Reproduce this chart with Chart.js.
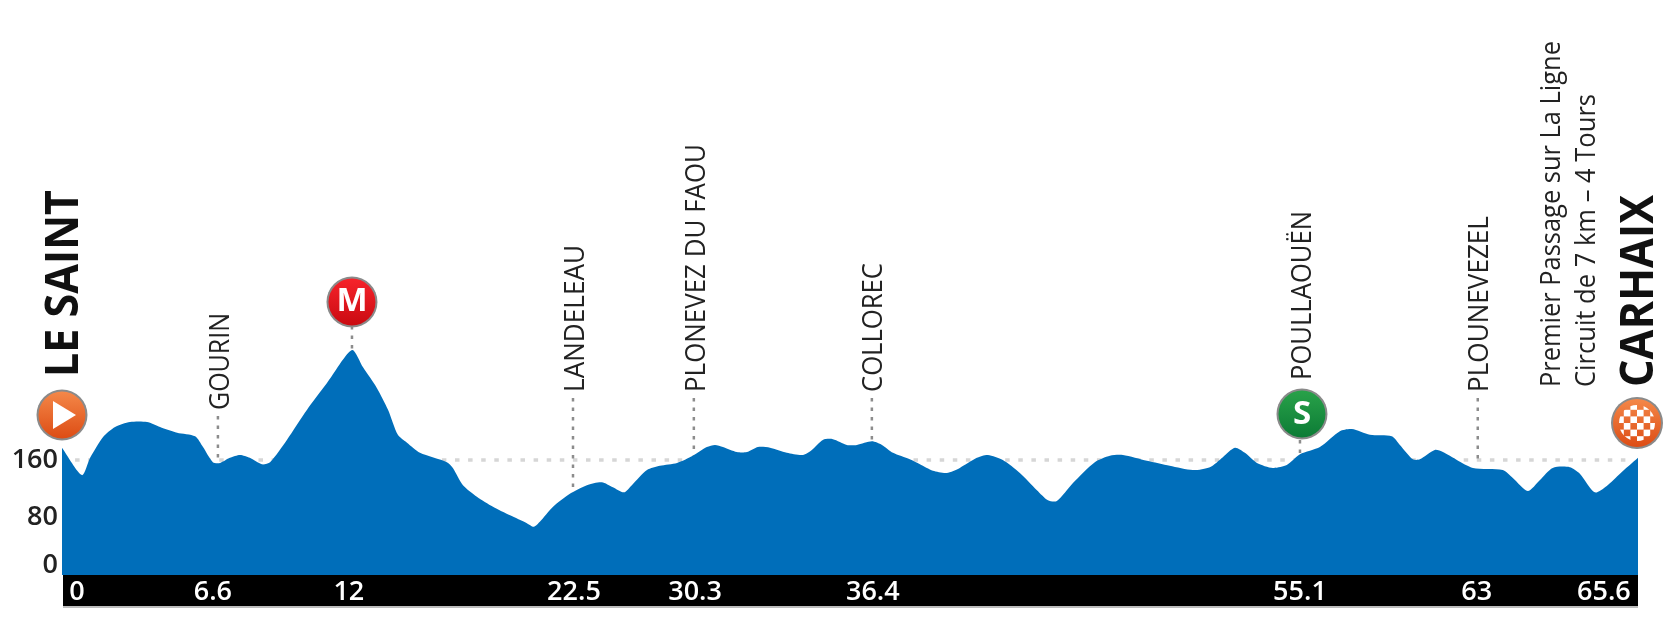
<!DOCTYPE html>
<html lang="fr">
<head>
<meta charset="utf-8">
<title>Profil Le Saint – Carhaix</title>
<script src="https://cdn.jsdelivr.net/npm/chart.js@4"></script>
<style>
html,body{margin:0;padding:0;background:#fff}
canvas{display:block;filter:blur(0.7px)}
</style>
</head>
<body>
<canvas id="c" width="1680" height="628"></canvas>
<script>
const distanceKm = [0,.83,1.17,1.71,2.21,2.83,3.54,4.08,4.79,5.54,5.87,6.28,6.58,6.99,7.41,7.82,8.32,8.66,9.36,10.2,11.03,12.07,12.53,13.11,13.57,13.98,14.36,14.9,16.02,16.27,16.69,17.27,17.94,18.65,19.35,19.64,19.89,20.44,21.14,21.85,22.47,22.93,23.39,23.72,24.35,24.89,25.6,26.26,26.84,27.18,27.51,28.09,28.51,28.97,29.47,30.17,30.84,31.21,31.67,32.09,32.67,33.09,33.71,34.13,34.59,35.29,35.71,36.25,36.83,37.37,38.08,38.54,39.16,39.87,40.58,41.04,41.41,42.08,42.99,43.62,44.16,45.16,46.11,47.07,47.78,48.32,48.82,49.24,49.74,50.4,50.98,51.53,52.36,53.19,53.69,54.44,55.35,55.69,56.23,56.52,57.14,57.48,58.06,58.73,59.97,60.39,61.01,61.51,62.05,62.76,63.18,63.8,64.3,64.85,65.6];
const elevationM = [177,139,163,192,206,213,213,206,198,193,178,157,156,163,167,163,154,157,188,230,267,313,289,260,230,195,184,170,157,149,125,109,95,83,72,67,74,95,113,125,129,122,115,125,146,152,156,166,178,181,178,171,171,178,177,170,167,174,188,189,181,181,186,181,170,161,154,145,142,149,163,167,160,142,118,104,103,128,157,166,167,159,152,146,150,164,177,170,156,149,153,168,178,200,203,195,193,181,161,161,174,171,160,149,146,135,117,132,149,150,141,115,124,141,163];

const yTickValues = [0,80,160];
const xTickPositions = [0.62,6.28,11.94,21.31,26.35,33.75,51.53,58.89,64.18];
const xTickLabels = ["0","6.6","12","22.5","30.3","36.4","55.1","63","65.6"];

const waypointNames = ["GOURIN","LANDELEAU","PLONEVEZ DU FAOU","COLLOREC","POULLAOUËN","PLOUNEVEZEL"];
const waypointKm = [6.49,21.27,26.30,33.71,51.53,58.93];
const waypointElevation = [156,115,166,186,168,161];

const circleLabels = ["M","S"];
const circleKm = [12.07,51.53];
const circleElevation = [313,168];

const startName = "LE SAINT";
const finishName = "CARHAIX";
const finishNotes = ["Premier Passage sur La Ligne","Circuit de 7 km – 4 Tours"];

const FONT = '"Open Sans", sans-serif';

function rotText(ctx, text, x, yBottom, font, len, color){
  ctx.save();
  ctx.translate(x, yBottom);
  ctx.rotate(-Math.PI/2);
  ctx.font = font;
  ctx.fillStyle = color;
  ctx.textAlign = 'left';
  ctx.textBaseline = 'middle';
  ctx.fillText(text, 0, 0, len);
  ctx.restore();
}
function badge(ctx, x, y, r, top, bottom){
  ctx.save();
  ctx.beginPath(); ctx.arc(x, y, r, 0, 2*Math.PI);
  ctx.fillStyle = '#8a8a8a'; ctx.fill();
  const g = ctx.createLinearGradient(0, y-r, 0, y+r);
  g.addColorStop(0, top); g.addColorStop(1, bottom);
  ctx.beginPath(); ctx.arc(x, y, r-2, 0, 2*Math.PI);
  ctx.fillStyle = g; ctx.fill();
  ctx.restore();
}
function vDots(ctx, x, y0, y1){
  ctx.save();
  ctx.strokeStyle = '#8c8c8c'; ctx.lineWidth = 2.5; ctx.setLineDash([3.5,6]);
  ctx.beginPath(); ctx.moveTo(x, y1); ctx.lineTo(x, y0); ctx.stroke();
  ctx.restore();
}

const profilePlugin = {
  id: 'profile',
  beforeDraw(chart){
    const {ctx, chartArea:a, scales:{x,y}} = chart;
    // black distance band under the profile, and its grey edge
    ctx.save();
    ctx.fillStyle = '#bdbdbd'; ctx.fillRect(a.left+1, a.bottom+31, a.right-a.left-1, 2);
    ctx.fillStyle = '#000'; ctx.fillRect(a.left+1, a.bottom, a.right-a.left-1, 31);
    // dotted 160 m reference
    const yRef = y.getPixelForValue(160);
    ctx.strokeStyle = '#d6d6d6'; ctx.lineWidth = 3.5; ctx.setLineDash([4.5,8.6]);
    ctx.beginPath(); ctx.moveTo(a.left, yRef); ctx.lineTo(a.right-10, yRef); ctx.stroke();
    ctx.restore();
    // waypoint leaders
    waypointKm.forEach((km,i)=>{
      const px = x.getPixelForValue(km);
      vDots(ctx, px, y.getPixelForValue(waypointElevation[i]), i===0 ? 416 : i===4 ? 440 : 398);
    });
    vDots(ctx, x.getPixelForValue(circleKm[0]), y.getPixelForValue(circleElevation[0]), 326);
    // lift the "0" label off the band, as in the original
    y.getLabelItems().forEach(it=>{
      if (it.label === '0' && !it._moved){ it.options.translation[1] -= 10; it._moved = true; }
    });
  },
  afterDatasetsDraw(chart){
    const {ctx, scales:{x,y}} = chart;
    const nameFont = `28px ${FONT}`;
    const lengths = [97,147,248,129,169,176];
    const bottoms = [410,392,392,392,380,392];
    const offs = [3,3,3,2,3,2];
    waypointNames.forEach((n,i)=>{
      rotText(ctx, n, x.getPixelForValue(waypointKm[i])+offs[i], bottoms[i], nameFont, lengths[i], '#222');
    });
    // Start / finish names
    rotText(ctx, startName, 65, 377, `bold 46px ${FONT}`, 187, '#111');
    rotText(ctx, finishName, 1640, 387, `bold 46px ${FONT}`, 192, '#111');
    rotText(ctx, finishNotes[0], 1552, 387, nameFont, 346, '#222');
    rotText(ctx, finishNotes[1], 1587, 387, nameFont, 293, '#222');
    // start badge
    badge(ctx, 62, 415, 25.5, '#f58a4b', '#dc4a12');
    ctx.save();
    ctx.fillStyle = '#fff';
    ctx.beginPath(); ctx.moveTo(53,401); ctx.lineTo(76,415); ctx.lineTo(53,429); ctx.closePath(); ctx.fill();
    ctx.restore();
    // finish badge with chequered flag
    badge(ctx, 1637, 423, 26, '#f58a4b', '#dc4a12');
    ctx.save();
    ctx.beginPath(); ctx.arc(1637,423,18,0,2*Math.PI); ctx.clip();
    const s = 6.6;
    for (let r=-3;r<3;r++) for (let c=-3;c<3;c++){
      if ((r+c+100)%2===0){ ctx.fillStyle='#fff'; ctx.fillRect(1637+c*s, 423+r*s, s, s); }
    }
    ctx.restore();
    // M and S badges
    const px0 = x.getPixelForValue(circleKm[0]), px1 = x.getPixelForValue(circleKm[1]);
    badge(ctx, px0, 302, 25.5, '#f8242c', '#c80a10');
    badge(ctx, px1+2, 414, 25.5, '#2aa34a', '#0b7a35');
    ctx.save();
    ctx.fillStyle = '#fff'; ctx.textAlign='center'; ctx.textBaseline='middle';
    ctx.font = `bold 33px ${FONT}`;
    ctx.fillText(circleLabels[0], px0, 302);
    ctx.fillText(circleLabels[1], px1+2, 415);
    ctx.restore();
  }
};

new Chart(document.getElementById('c'), {
  type: 'line',
  data: {
    datasets: [{
      data: distanceKm.map((d,i)=>({x:d, y:elevationM[i]})),
      fill: 'origin',
      backgroundColor: '#006EBA',
      borderWidth: 0,
      pointRadius: 0,
      tension: 0.25
    }]
  },
  plugins: [profilePlugin],
  options: {
    responsive: false,
    animation: false,
    layout: { padding: { top: 0, right: 42, bottom: 0, left: 0 } },
    plugins: { legend: {display:false}, tooltip: {enabled:false} },
    scales: {
      x: {
        type: 'linear', min: 0, max: 65.6,
        grid: {display:false, drawTicks:false}, border: {display:false},
        afterBuildTicks(s){ s.ticks = xTickPositions.map(v=>({value:v})); },
        afterFit(s){ s.height = 53; s.paddingLeft = 0; s.paddingRight = 0; },
        ticks: {
          autoSkip:false, maxRotation:0, minRotation:0, padding:1,
          color:'#fff', font:{family:'"Open Sans", sans-serif', size:27, weight:'600'},
          callback(v){ return xTickLabels[xTickPositions.indexOf(v)]; }
        }
      },
      y: {
        type: 'linear', min: 0, max: 800,
        grid: {display:false, drawTicks:false}, border: {display:false},
        afterBuildTicks(s){ s.ticks = yTickValues.map(v=>({value:v})); },
        afterFit(s){ s.width = 62; s.paddingTop = 0; s.paddingBottom = 0; },
        ticks: {
          autoSkip:false, padding:4, color:'#222',
          font:{family:'"Open Sans", sans-serif', size:27, weight:'600'},
          callback(v){ return String(v); }
        }
      }
    }
  }
});
</script>
</body>
</html>
